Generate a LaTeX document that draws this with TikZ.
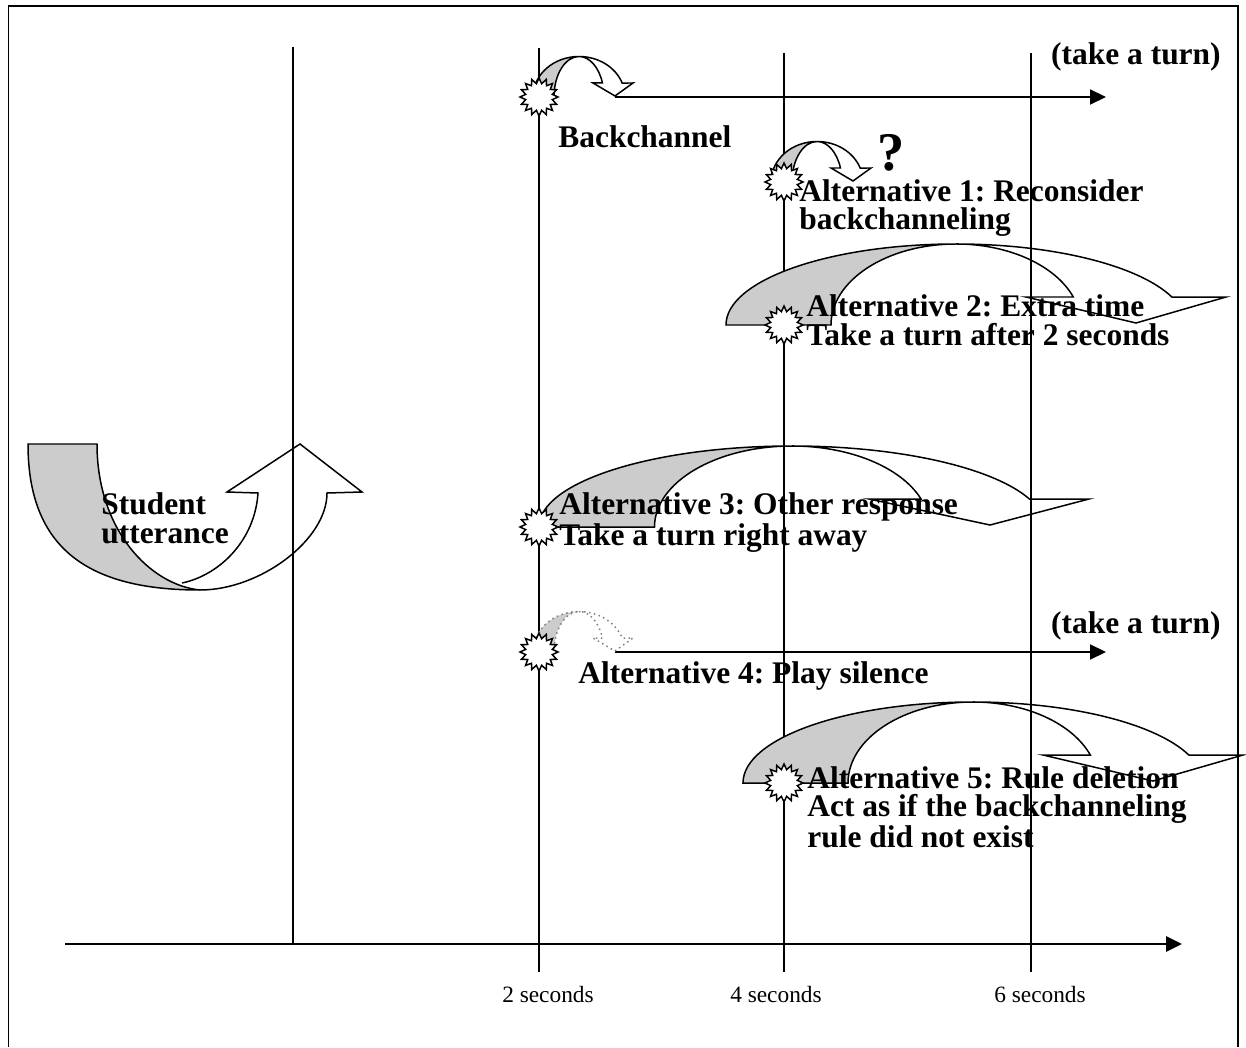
\documentclass[tikz,border=0pt]{standalone}
\usepackage{fontspec}
\setmainfont{Liberation Serif}
\usetikzlibrary{shapes.geometric, arrows.meta}
\frenchspacing

\begin{document}
\begin{tikzpicture}[
		x=0.02cm, y=-0.02cm,
		% Estilos de líneas, flechas y textos
		linea/.style={line width=0.85pt},
		eje/.style={line width=1.4pt, -{Triangle[length=9pt, width=8.5pt]}},
		flecha/.style={line width=0.85pt, -{Triangle[length=9pt, width=8.5pt]}},
		sol/.style={star, star points=16, star point ratio=1.4, minimum size=0.76cm,
			inner sep=0pt, draw, fill=white, line width=0.85pt},
		% el ancla 'base' de un texto de varias líneas cae en la última línea
		etiq/.style={font=\bfseries\fontsize{17.9}{16.2}\selectfont, align=left,
			inner sep=0pt, anchor=base west},
		seg/.style={font=\fontsize{13.3}{15}\selectfont, inner sep=0pt, anchor=base},
		cinta/.style={fill=gray!40, draw, line width=0.85pt},
		borde/.style={draw, line width=0.85pt},
		% Flecha curva: (0,0) es el centro de la base, la punta cae a la derecha
		giro/.pic={
			\filldraw[cinta] (-230,0) arc[start angle=180, end angle=270, x radius=230, y radius=81]
				arc[start angle=270, end angle=180, x radius=125, y radius=81] -- cycle;
			\draw[borde] (0,-81) arc[start angle=270, end angle=339.8, x radius=230, y radius=81]
				-- (270,-28) -- (180,-2) -- (70,-28) -- (117.3,-28)
				arc[start angle=339.8, end angle=270, x radius=125, y radius=81];
		}
	]

	\useasboundingbox (0,0) rectangle (1246,1047);

	% --- 1. Marco y líneas de tiempo ---
	\draw[line width=1.1pt] (8.5,1047) -- (8.5,6) -- (1238,6) -- (1238,1047);

	\draw[linea] (293,47) -- (293,944);
	\draw[linea] (539,48) -- (539,972);
	\draw[linea] (784,53) -- (784,972);
	\draw[linea] (1031,53) -- (1031,972);

	\coordinate (ejeA) at (65,944);
	\coordinate (ejeB) at (1182,944);
	\draw[eje] (ejeA) -- (ejeB);

	\node[seg] (seg2) at (548,1002) {2 seconds};
	\node[seg] (seg4) at (776,1002) {4 seconds};
	\node[seg] (seg6) at (1040,1002) {6 seconds};

	% --- 2. Flechas horizontales (turno) ---
	\coordinate (bcpunta) at (615,97);
	\coordinate (bcfin) at (1106,97);
	\draw[flecha] (bcpunta) -- (bcfin);

	\coordinate (silpunta) at (615,652);
	\coordinate (silfin) at (1106,652);
	\draw[flecha] (silpunta) -- (silfin);

	% --- 3. Flechas curvas ---
	\pic[xscale=0.2, yscale=0.5] at (579,97) {giro};
	\pic[xscale=0.2, yscale=0.5] at (817,182) {giro};
	\pic at (956,325) {giro};
	\pic[xscale=1.1] at (792,527) {giro};
	\pic[xscale=0.2, yscale=0.5,
		cinta/.append style={draw=gray, dotted},
		borde/.append style={draw=gray, dotted}] at (579,652) {giro};
	\pic at (973,783) {giro};

	% flecha de la intervención del estudiante (hacia arriba)
	\filldraw[cinta] (28,444) -- (97,444) .. controls (97,530) and (150,585) .. (200,590)
		.. controls (90,590) and (28,550) .. (28,444) -- cycle;
	\draw[borde] (200,590) .. controls (260,590) and (327,540) .. (327,493)
		-- (362,492) -- (300,444) -- (227,492) -- (258,493)
		.. controls (255,540) and (220,575) .. (182,583);

	% --- 4. Soles (momento de la decisión) ---
	\node[sol] (solbc) at (539,97) {};
	\node[sol] (sol1) at (784,182) {};
	\node[sol] (sol2) at (784,325) {};
	\node[sol] (sol3) at (539,527) {};
	\node[sol] (sol4) at (539,652) {};
	\node[sol] (sol5) at (784,783) {};

	% --- 5. Textos ---
	\node[etiq, anchor=base east] (turno1) at (1221,65) {(take a turn)};
	\node[etiq, anchor=base east] (turno2) at (1221,633) {(take a turn)};

	\node[etiq] (bc) at (558,148) {Backchannel};
	\node[font=\bfseries\fontsize{31}{31}\selectfont, inner sep=0pt, anchor=base] (preg) at (891,171) {?};
	\node[etiq] (alt1) at (799,230) {Alternative 1: Reconsider\\backchanneling};
	\node[etiq] (alt2) at (806,345) {Alternative 2: Extra time\\Take a turn after 2 seconds};
	\node[etiq] (est) at (101,543) {Student\\utterance};
	\node[etiq] (alt3) at (559,545) {Alternative 3: Other response\\Take a turn right away};
	\node[etiq] (alt4) at (578,683) {Alternative 4: Play silence};
	\node[etiq] (alt5) at (807,847) {Alternative 5: Rule deletion\\Act as if the backchanneling\\rule did not exist};

\end{tikzpicture}
\end{document}
